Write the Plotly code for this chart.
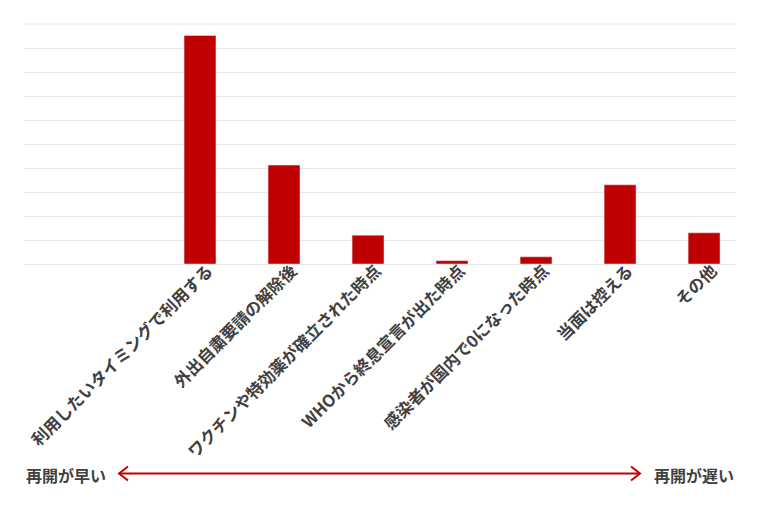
import plotly.graph_objects as go

categories = [
    "利用したいタイミングで利用する",
    "外出自粛要請の解除後",
    "ワクチンや特効薬が確立された時点",
    "WHOから終息宣言が出た時点",
    "感染者が国内で0になった時点",
    "当面は控える",
    "その他",
]
shares = [47.6, 20.6, 6.0, 0.7, 1.5, 16.5, 6.5]

left_label = "再開が早い"
right_label = "再開が遅い"

red = "#C00000"
text_col = "#404040"
grid_col = "#e6e6e6"
font = "Noto Sans CJK JP"

fig = go.Figure()
fig.add_trace(go.Bar(x=categories, y=shares, marker_color=red, width=0.38,
                     hoverinfo="x+y"))

# page body adds 8px, so the figure is 744x499
fig.update_layout(
    width=744, height=499,
    margin=dict(l=16, r=16, t=16, b=243, autoexpand=False),
    plot_bgcolor="white", paper_bgcolor="white",
    showlegend=False,
    font=dict(family=font, color=text_col, size=15),
)
fig.update_xaxes(
    type="category", range=[-2.095, 6.38], tickangle=-45,
    tickfont=dict(family=font, size=16.5, color=text_col, weight="bold"),
    showline=False, ticks="", showgrid=False,
    ticklabelstandoff=-7, ticklabelshift=8,
)
fig.update_yaxes(
    range=[0, 50], dtick=5, showticklabels=False,
    gridcolor=grid_col, gridwidth=1, zeroline=True,
    zerolinecolor=grid_col, zerolinewidth=1,
)
# top gridline (plotly skips the one on the edge)
fig.add_shape(type="line", xref="paper", yref="paper", x0=0, x1=1, y0=1, y1=1,
              line=dict(color=grid_col, width=1), layer="below")

# bottom direction arrow
ya = (256 - 465.5) / 240
fig.add_annotation(x=0, y=(256 - 467) / 240, xref="paper", yref="paper",
                   text=left_label, showarrow=False, xanchor="left",
                   yanchor="middle",
                   font=dict(family=font, size=16, color=text_col, weight="bold"))
fig.add_annotation(x=1, y=(256 - 467) / 240, xref="paper", yref="paper",
                   text=right_label, showarrow=False, xanchor="right",
                   yanchor="middle",
                   font=dict(family=font, size=16, color=text_col, weight="bold"))
x0 = (119 - 24) / 712
x1 = (640 - 24) / 712
fig.add_shape(type="line", xref="paper", yref="paper", x0=x0, x1=x1, y0=ya, y1=ya,
              line=dict(color=red, width=2))
fig.add_shape(type="path", xref="paper", yref="paper", xsizemode="pixel",
              ysizemode="pixel", xanchor=x0, yanchor=ya,
              path="M 9 7 L 0 0 L 9 -7", line=dict(color=red, width=2))
fig.add_shape(type="path", xref="paper", yref="paper", xsizemode="pixel",
              ysizemode="pixel", xanchor=x1, yanchor=ya,
              path="M -9 7 L 0 0 L -9 -7", line=dict(color=red, width=2))

fig.write_html("out.html")
